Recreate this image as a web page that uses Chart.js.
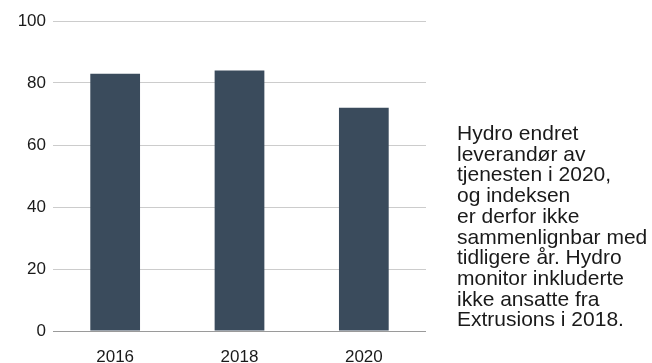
<!DOCTYPE html>
<html>
<head>
<meta charset="utf-8">
<script src="https://cdn.jsdelivr.net/npm/chart.js@4"></script>
<style>
  html, body { margin: 0; padding: 0; background: #fff; }
  #wrap { position: relative; width: 652px; height: 363px; }
  #note {
    position: absolute; left: 457px; top: 123px;
    font-family: 'Liberation Sans', Arial, sans-serif;
    font-size: 21px; line-height: 20.7px; color: #1a1a1a;
    white-space: pre;
  }
</style>
</head>
<body>
<div id="wrap">
  <canvas id="chart" width="652" height="363"></canvas>
  <div id="note"></div>
</div>
<script>
// data
const categories = ['2016', '2018', '2020'];
const values = [83, 84, 72];
const noteLines = [
  'Hydro endret',
  'leverandør av',
  'tjenesten i 2020,',
  'og indeksen',
  'er derfor ikke',
  'sammenlignbar med',
  'tidligere år. Hydro',
  'monitor inkluderte',
  'ikke ansatte fra',
  'Extrusions i 2018.'
];

document.getElementById('note').textContent = noteLines.join('\n');

const barColor = '#3a4b5c';
const font = { family: "'Liberation Sans', Arial, sans-serif", size: 17 };

new Chart(document.getElementById('chart').getContext('2d'), {
  type: 'bar',
  data: {
    labels: categories,
    datasets: [{
      data: values,
      backgroundColor: barColor,
      borderWidth: 0,
      barPercentage: 0.4,
      categoryPercentage: 1
    }]
  },
  options: {
    responsive: false,
    animation: false,
    layout: { padding: { left: 0, right: 226, top: 21, bottom: 0 } },
    plugins: { legend: { display: false }, tooltip: { enabled: false } },
    scales: {
      x: {
        grid: { display: false, drawTicks: false },
        border: { display: false },
        ticks: { color: '#1a1a1a', font: font, padding: 16, maxRotation: 0 },
        afterFit: function(scale) { scale.height = 32; }
      },
      y: {
        min: 0,
        max: 100,
        ticks: { stepSize: 20, color: '#1a1a1a', font: font, padding: 7 },
        grid: {
          drawTicks: false,
          color: function(c) { return c.tick && c.tick.value === 0 ? '#9a9a9a' : '#cccccc'; }
        },
        border: { display: false },
        afterFit: function(scale) { scale.width = 53; }
      }
    }
  }
});
</script>
</body>
</html>
